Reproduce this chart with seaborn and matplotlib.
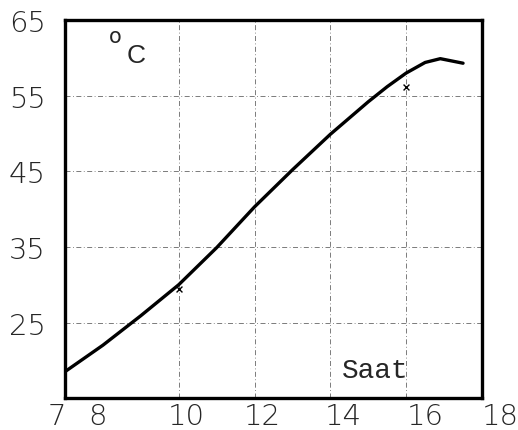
import numpy as np
import matplotlib
matplotlib.use("Agg")
import matplotlib.pyplot as plt
import matplotlib.transforms as mtransforms
import seaborn as sns

# Temperature curve
saat = [7, 8, 9, 10, 11, 12, 13, 14, 15, 15.5, 16, 16.5, 16.9, 17.5]
sicaklik = [18.5, 22.0, 25.9, 30.0, 34.9, 40.3, 45.2, 49.9, 54.2, 56.2, 58.0, 59.4, 59.9, 59.3]

# loose readings marked with small crosses
olcum_saat = [10, 16]
olcum_sicaklik = [29.4, 56.1]

x_ticks = [7, 8, 10, 12, 14, 16, 18]
y_ticks = [25, 35, 45, 55, 65]
x_grid = [10, 12, 14, 16]
y_grid = [25, 35, 45, 55]

sns.set_style("white")
plt.rcParams['font.family'] = ['DejaVu Sans']

fig = plt.figure(figsize=(5.18, 4.31), dpi=100)
ax = fig.add_axes([0.1255, 0.074, 0.805, 0.877])

grid_style = dict(color='#666666', lw=0.6, ls=(0, (6, 3, 1, 3)), zorder=0)
for gx in x_grid:
    ax.axvline(gx, **grid_style)
for gy in y_grid:
    ax.axhline(gy, **grid_style)

sns.lineplot(x=saat, y=sicaklik, ax=ax, color='black', lw=2.4, zorder=3)
sns.scatterplot(x=olcum_saat, y=olcum_sicaklik, ax=ax, marker='x', color='black',
                s=18, linewidth=1.0, zorder=4)

ax.set_xlim(7, 18)
ax.set_ylim(15, 65)
ax.set_xticks(x_ticks)
ax.set_yticks(y_ticks)
ax.tick_params(length=0, labelsize=21)
ax.tick_params(axis='y', pad=14)
ax.tick_params(axis='x', pad=3)
for lab in ax.get_xticklabels() + ax.get_yticklabels():
    lab.set_fontweight('light')
for sp in ax.spines.values():
    sp.set_color('black')
    sp.set_linewidth(2.4)

# typed labels sit a little off their grid lines
x_shift = [-8, -5, 8, 8, 13, 19, 18]
for lab, dx in zip(ax.get_xticklabels(), x_shift):
    lab.set_transform(lab.get_transform() + mtransforms.ScaledTranslation(dx / 100, 0, fig.dpi_scale_trans))

ax.text(0.105, 0.985, 'o', transform=ax.transAxes, fontsize=15, va='top')
ax.text(0.148, 0.94, 'C', transform=ax.transAxes, fontsize=19, va='top',
        family=['Liberation Sans', 'DejaVu Sans'])
ax.text(0.665, 0.04, 'Saat', transform=ax.transAxes, fontsize=20, va='bottom',
        family=['Liberation Mono', 'DejaVu Sans Mono'])

fig.savefig('out.png', dpi=100)
